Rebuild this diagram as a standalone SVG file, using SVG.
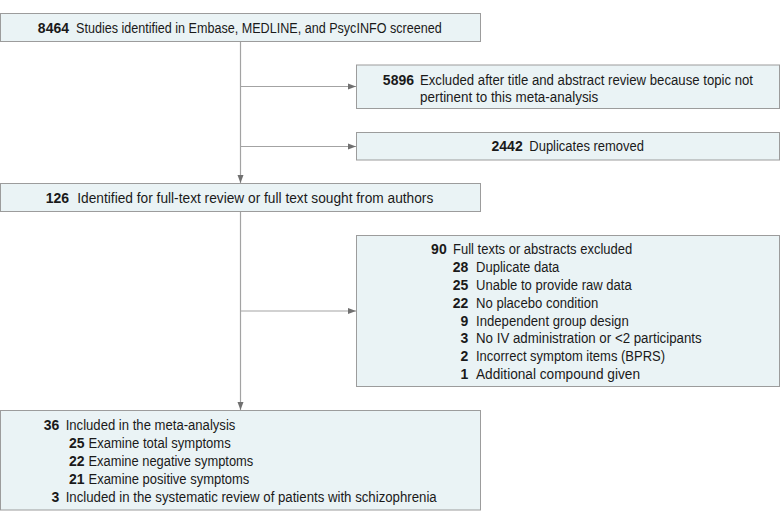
<svg xmlns="http://www.w3.org/2000/svg" width="780" height="524" viewBox="0 0 780 524">
<style>
.box{fill:#eaf3f5;stroke:#9c9c9c;stroke-width:1}
text{font-family:"Liberation Sans",Arial,sans-serif;font-size:14px;fill:#1a1a1a}
.n{font-weight:bold;text-anchor:end}
.c{fill:none;stroke:#a3a3a3;stroke-width:1.2}
</style>
<defs>
<marker id="ah" markerUnits="userSpaceOnUse" markerWidth="8" markerHeight="8" viewBox="0 0 8 8" refX="8" refY="4" orient="auto">
<path d="M0,1 L8,4 L0,7 Z" fill="#707070"/>
</marker>
</defs>
<g id="connectors">
<path class="c" d="M240.5 41.5 V183" marker-end="url(#ah)"/>
<path class="c" d="M240.5 86.5 H356" marker-end="url(#ah)"/>
<path class="c" d="M240.5 146.5 H356" marker-end="url(#ah)"/>
<path class="c" d="M240.5 211.5 V410" marker-end="url(#ah)"/>
<path class="c" d="M240.5 311 H356" marker-end="url(#ah)"/>
</g>
<g id="n8464">
<rect class="box" x="0.5" y="13.5" width="480" height="28"/>
<text class="n" x="69" y="33">8464</text>
<text x="76" y="33" textLength="365.7" lengthAdjust="spacingAndGlyphs">Studies identified in Embase, MEDLINE, and PsycINFO screened</text>
</g>
<g id="n5896">
<rect class="box" x="356.5" y="65" width="423" height="43.5"/>
<text class="n" x="414" y="85">5896</text>
<text x="420" y="85" textLength="333" lengthAdjust="spacingAndGlyphs">Excluded after title and abstract review because topic not</text>
<text x="420" y="101.7" textLength="178.3" lengthAdjust="spacingAndGlyphs">pertinent to this meta-analysis</text>
</g>
<g id="n2442">
<rect class="box" x="356.5" y="132.5" width="423" height="27.5"/>
<text class="n" x="522.7" y="150.7">2442</text>
<text x="529.3" y="150.7" textLength="114.7" lengthAdjust="spacingAndGlyphs">Duplicates removed</text>
</g>
<g id="n126">
<rect class="box" x="0.5" y="183.5" width="480" height="28"/>
<text class="n" x="69" y="202.5">126</text>
<text x="77.3" y="202.5" textLength="356" lengthAdjust="spacingAndGlyphs">Identified for full-text review or full text sought from authors</text>
</g>
<g id="n90">
<rect class="box" x="356.5" y="235.5" width="423" height="151"/>
<text class="n" x="446.7" y="254.3">90</text>
<text x="453" y="254.3" textLength="179.3" lengthAdjust="spacingAndGlyphs">Full texts or abstracts excluded</text>
<text class="n" x="468.3" y="272.1">28</text>
<text x="476" y="272.1" textLength="83.3" lengthAdjust="spacingAndGlyphs">Duplicate data</text>
<text class="n" x="468.3" y="289.9">25</text>
<text x="476" y="289.9" textLength="155.7" lengthAdjust="spacingAndGlyphs">Unable to provide raw data</text>
<text class="n" x="468.3" y="307.7">22</text>
<text x="476" y="307.7" textLength="122.3" lengthAdjust="spacingAndGlyphs">No placebo condition</text>
<text class="n" x="468.3" y="325.5">9</text>
<text x="476" y="325.5" textLength="152.7" lengthAdjust="spacingAndGlyphs">Independent group design</text>
<text class="n" x="468.3" y="343.3">3</text>
<text x="476" y="343.3" textLength="225.7" lengthAdjust="spacingAndGlyphs">No IV administration or &lt;2 participants</text>
<text class="n" x="468.3" y="361.1">2</text>
<text x="476" y="361.1" textLength="189" lengthAdjust="spacingAndGlyphs">Incorrect symptom items (BPRS)</text>
<text class="n" x="468.3" y="378.9">1</text>
<text x="476" y="378.9" textLength="164" lengthAdjust="spacingAndGlyphs">Additional compound given</text>
</g>
<g id="n36">
<rect class="box" x="0.5" y="410.5" width="480" height="99.5"/>
<text class="n" x="59.3" y="430">36</text>
<text x="65.7" y="430" textLength="169.7" lengthAdjust="spacingAndGlyphs">Included in the meta-analysis</text>
<text class="n" x="84.5" y="447.8">25</text>
<text x="88.5" y="447.8" textLength="142.2" lengthAdjust="spacingAndGlyphs">Examine total symptoms</text>
<text class="n" x="84.5" y="465.7">22</text>
<text x="88.5" y="465.7" textLength="164.8" lengthAdjust="spacingAndGlyphs">Examine negative symptoms</text>
<text class="n" x="84.5" y="483.6">21</text>
<text x="88.5" y="483.6" textLength="160.8" lengthAdjust="spacingAndGlyphs">Examine positive symptoms</text>
<text class="n" x="59.3" y="501.5">3</text>
<text x="65.7" y="501.5" textLength="371" lengthAdjust="spacingAndGlyphs">Included in the systematic review of patients with schizophrenia</text>
</g>
</svg>
